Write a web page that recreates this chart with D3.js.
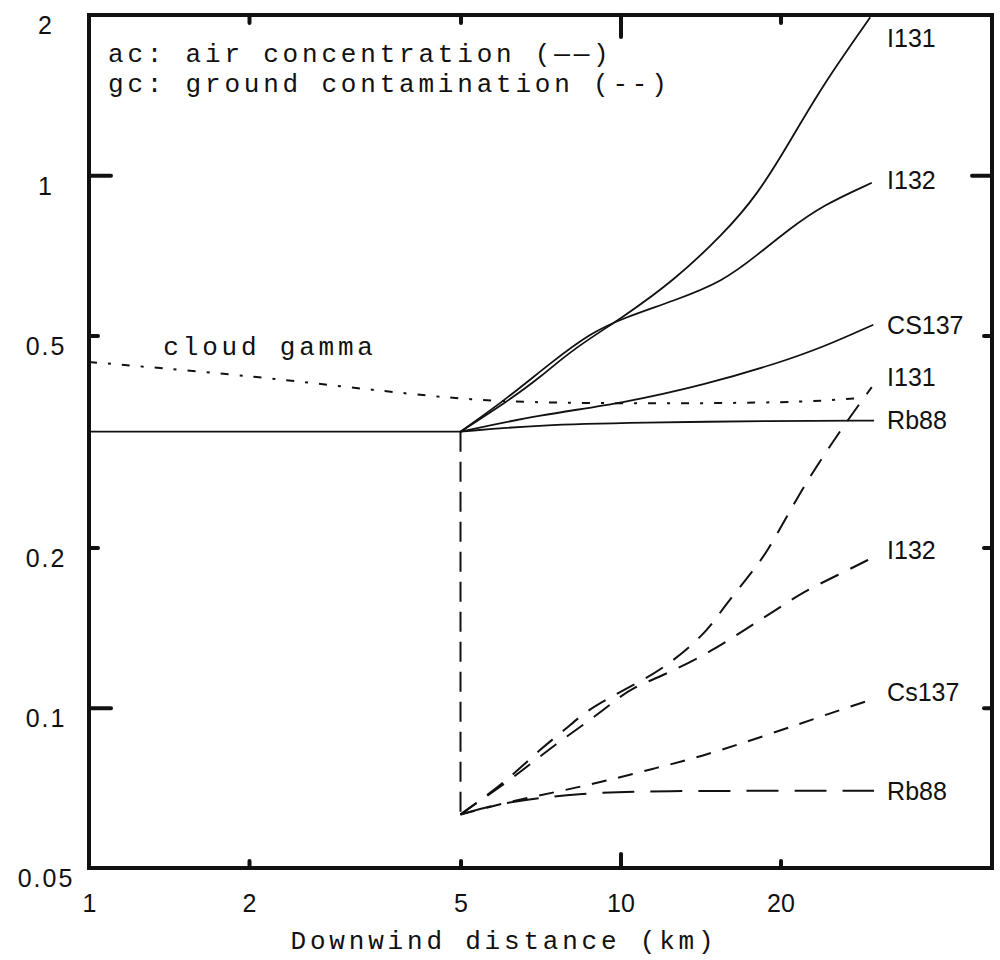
<!DOCTYPE html>
<html>
<head>
<meta charset="utf-8">
<script src="https://cdn.jsdelivr.net/npm/d3@7/dist/d3.min.js"></script>
<style>
  html, body { margin: 0; padding: 0; background: #fff; }
  svg { display: block; }
  .mono { font-family: "Liberation Mono", "DejaVu Sans Mono", monospace; fill: #111; font-size: 26px; letter-spacing: 3.8px; }
  .sans { font-family: "Liberation Sans", Arial, sans-serif; fill: #111; }
</style>
</head>
<body>
<svg id="chart" width="1000" height="960"></svg>
<script>
// ---- data (downwind distance in km, relative dose) ----
const xTickValues = [1, 2, 5, 10, 20];
const xTickLabels = ["1", "2", "5", "10", "20"];
const yTickValues = [2, 1, 0.5, 0.2, 0.1, 0.05];
const yTickLabels = ["2", "1", "0.5", "0.2", "0.1", "0.05"];

// shared air-concentration plateau up to 5 km
const acBaselineKm = [1, 5];
const acBaselineVal = [0.33, 0.33];

// air concentration (solid)
const i131AcKm  = [5, 6.1, 7.1, 8.1, 10.1, 12.6, 15.6, 18.1, 20.8, 24, 29.5];
const i131AcVal = [0.33, 0.375, 0.419, 0.47, 0.541, 0.634, 0.775, 0.919, 1.154, 1.476, 1.98];
const i132AcKm  = [5, 6.1, 7.4, 8.8, 10.1, 12.6, 15.6, 18.1, 20.8, 24, 29.7];
const i132AcVal = [0.33, 0.38, 0.445, 0.506, 0.539, 0.581, 0.632, 0.709, 0.793, 0.878, 0.968];
const cs137AcKm  = [5, 7.06, 10.1, 14.5, 19.4, 24, 29.9];
const cs137AcVal = [0.33, 0.355, 0.373, 0.405, 0.441, 0.475, 0.524];
const rb88AcKm  = [5, 7.06, 10.9, 19.4, 30];
const rb88AcVal = [0.33, 0.34, 0.343, 0.346, 0.346];

// cloud gamma (dotted)
const cloudGammaKm  = [1, 1.87, 2.88, 4.44, 6.12, 9.43, 14.5, 22.4, 28.6];
const cloudGammaVal = [0.446, 0.423, 0.403, 0.384, 0.375, 0.373, 0.373, 0.375, 0.382];

// ground contamination onset at 5 km
const gcOnsetKm  = [5, 5];
const gcOnsetVal = [0.33, 0.063];

// ground contamination (dashed)
const i131GcKm  = [5, 5.26, 6.06, 7.12, 7.86, 8.58, 9.47, 10.5, 12, 14.4, 15.6, 17.3, 18.9, 21.1, 23.4, 26.7, 29.7];
const i131GcVal = [0.063, 0.0654, 0.0724, 0.0842, 0.0909, 0.0982, 0.104, 0.110, 0.118, 0.137, 0.154, 0.175, 0.196, 0.240, 0.285, 0.346, 0.40];
const i132GcKm  = [5, 5.26, 6.06, 6.76, 7.53, 8.66, 9.64, 10.5, 12.3, 14.9, 17.3, 19.7, 22.05, 25.5, 30];
const i132GcVal = [0.063, 0.0654, 0.072, 0.0783, 0.0852, 0.094, 0.102, 0.109, 0.116, 0.128, 0.141, 0.153, 0.165, 0.177, 0.192];
const cs137GcKm  = [5, 5.8, 6.5, 7.9, 9.35, 11.5, 14, 18.9, 25.1, 30];
const cs137GcVal = [0.063, 0.0655, 0.0673, 0.0701, 0.0728, 0.0768, 0.0806, 0.0889, 0.098, 0.104];
const rb88GcKm  = [5, 5.9, 8.3, 12.2, 20, 30];
const rb88GcVal = [0.063, 0.0662, 0.0692, 0.0698, 0.0698, 0.0698];

// ---- layout ----
const svg = d3.select("#chart");
const frame = { left: 89, right: 992, top: 15, bottom: 868 };

const x = d3.scaleLog().domain([1, 50]).range([frame.left, frame.right]);
const y = d3.scaleLog().domain([0.05, 2]).range([frame.bottom, frame.top]);

const smooth = d3.line()
  .x(d => x(d[0])).y(d => y(d[1]))
  .curve(d3.curveBasis);
const straight = d3.line()
  .x(d => x(d[0])).y(d => y(d[1]));

const ink = "#111";

// ---- frame ----
svg.append("rect")
  .attr("x", frame.left).attr("y", frame.top)
  .attr("width", frame.right - frame.left)
  .attr("height", frame.bottom - frame.top)
  .attr("fill", "none").attr("stroke", ink).attr("stroke-width", 4);

// inward tick marks, long and short
function tickMarks(axisFn, scale, values, len, translate) {
  const g = svg.append("g").attr("transform", translate)
    .call(axisFn(scale).tickValues(values).tickSize(-len).tickFormat(""));
  g.select(".domain").remove();
  g.selectAll(".tick line").attr("stroke", ink).attr("stroke-width", 4)
    .attr("stroke-linecap", "round");
}
tickMarks(d3.axisLeft, y, [1, 0.1], 22, `translate(${frame.left},0)`);
tickMarks(d3.axisLeft, y, [0.5, 0.2], 9, `translate(${frame.left},0)`);
tickMarks(d3.axisRight, y, [1], 20, `translate(${frame.right},0)`);
tickMarks(d3.axisRight, y, [0.5, 0.2, 0.1], 8, `translate(${frame.right},0)`);
tickMarks(d3.axisTop, x, [10], 22, `translate(0,${frame.top})`);
tickMarks(d3.axisTop, x, [2, 5, 20], 8, `translate(0,${frame.top})`);
tickMarks(d3.axisBottom, x, [10], 14, `translate(0,${frame.bottom})`);
tickMarks(d3.axisBottom, x, [2, 5, 20], 7, `translate(0,${frame.bottom})`);

// tick labels
const yAxis = svg.append("g").attr("transform", `translate(${frame.left},0)`)
  .call(d3.axisLeft(y).tickValues(yTickValues).tickSize(0)
    .tickFormat((d, i) => yTickLabels[i]));
yAxis.select(".domain").remove();
yAxis.selectAll(".tick text")
  .attr("class", "sans")
  .attr("x", 46 - frame.left).attr("dy", "0.35em").attr("transform", "translate(0,10)")
  .attr("text-anchor", "middle")
  .style("font-size", "25px").style("letter-spacing", "2px");

const xAxis = svg.append("g").attr("transform", `translate(0,${frame.bottom})`)
  .call(d3.axisBottom(x).tickValues(xTickValues).tickSize(0).tickPadding(26)
    .tickFormat((d, i) => xTickLabels[i]));
xAxis.select(".domain").remove();
xAxis.selectAll(".tick text")
  .attr("class", "sans")
  .style("font-size", "25px");

// axis title
svg.append("text").attr("class", "mono")
  .attr("x", 504).attr("y", 949).attr("text-anchor", "middle")
  .text("Downwind distance (km)");

// legend text
svg.append("text").attr("class", "mono")
  .attr("x", 108).attr("y", 62)
  .text("ac: air concentration (——)");
svg.append("text").attr("class", "mono")
  .attr("x", 108).attr("y", 92)
  .text("gc: ground contamination (--)");

// ---- curves ----
const acSeries = [
  { key: "I131ac",  label: "I131",  km: i131AcKm,  val: i131AcVal },
  { key: "I132ac",  label: "I132",  km: i132AcKm,  val: i132AcVal },
  { key: "CS137ac", label: "CS137", km: cs137AcKm, val: cs137AcVal },
  { key: "Rb88ac",  label: "Rb88",  km: rb88AcKm,  val: rb88AcVal }
];
const gcSeries = [
  { key: "I131gc",  label: "I131",  km: i131GcKm,  val: i131GcVal,  dash: "20,13" },
  { key: "I132gc",  label: "I132",  km: i132GcKm,  val: i132GcVal,  dash: "20,13" },
  { key: "Cs137gc", label: "Cs137", km: cs137GcKm, val: cs137GcVal, dash: "15,12" },
  { key: "Rb88gc",  label: "Rb88",  km: rb88GcKm,  val: rb88GcVal,  dash: "32,16" }
];

// plateau shared by all air-concentration curves
svg.append("path")
  .attr("d", straight(d3.zip(acBaselineKm, acBaselineVal)))
  .attr("fill", "none").attr("stroke", ink).attr("stroke-width", 1.8);

svg.append("g").selectAll("path").data(acSeries).join("path")
  .attr("d", s => smooth(d3.zip(s.km, s.val)))
  .attr("fill", "none").attr("stroke", ink).attr("stroke-width", 1.8);

// cloud gamma
svg.append("path")
  .attr("d", smooth(d3.zip(cloudGammaKm, cloudGammaVal)))
  .attr("fill", "none").attr("stroke", ink).attr("stroke-width", 2)
  .attr("stroke-dasharray", "8,11,3,11");

svg.append("text").attr("class", "mono")
  .attr("x", x(1.38)).attr("y", y(cloudGammaVal[0]) - 7)
  .text("cloud gamma");

// ground contamination onset and curves
svg.append("path")
  .attr("d", straight(d3.zip(gcOnsetKm, gcOnsetVal)))
  .attr("fill", "none").attr("stroke", ink).attr("stroke-width", 2)
  .attr("stroke-dasharray", "20,10");

svg.append("g").selectAll("path").data(gcSeries).join("path")
  .attr("d", s => smooth(d3.zip(s.km, s.val)))
  .attr("fill", "none").attr("stroke", ink).attr("stroke-width", 2)
  .attr("stroke-dasharray", s => s.dash);

// ---- end labels ----
const labelNudge = {
  I131ac: 21, I132ac: -3, CS137ac: 1, Rb88ac: 0,
  I131gc: -10, I132gc: -7, Cs137gc: -6, Rb88gc: 0
};
const labelX = x(30) + 13;
svg.append("g").selectAll("text").data(acSeries.concat(gcSeries)).join("text")
  .attr("class", "sans")
  .attr("x", labelX)
  .attr("y", s => y(s.val[s.val.length - 1]) + labelNudge[s.key])
  .attr("dy", "0.35em")
  .style("font-size", "25px")
  .text(s => s.label);
</script>
</body>
</html>
